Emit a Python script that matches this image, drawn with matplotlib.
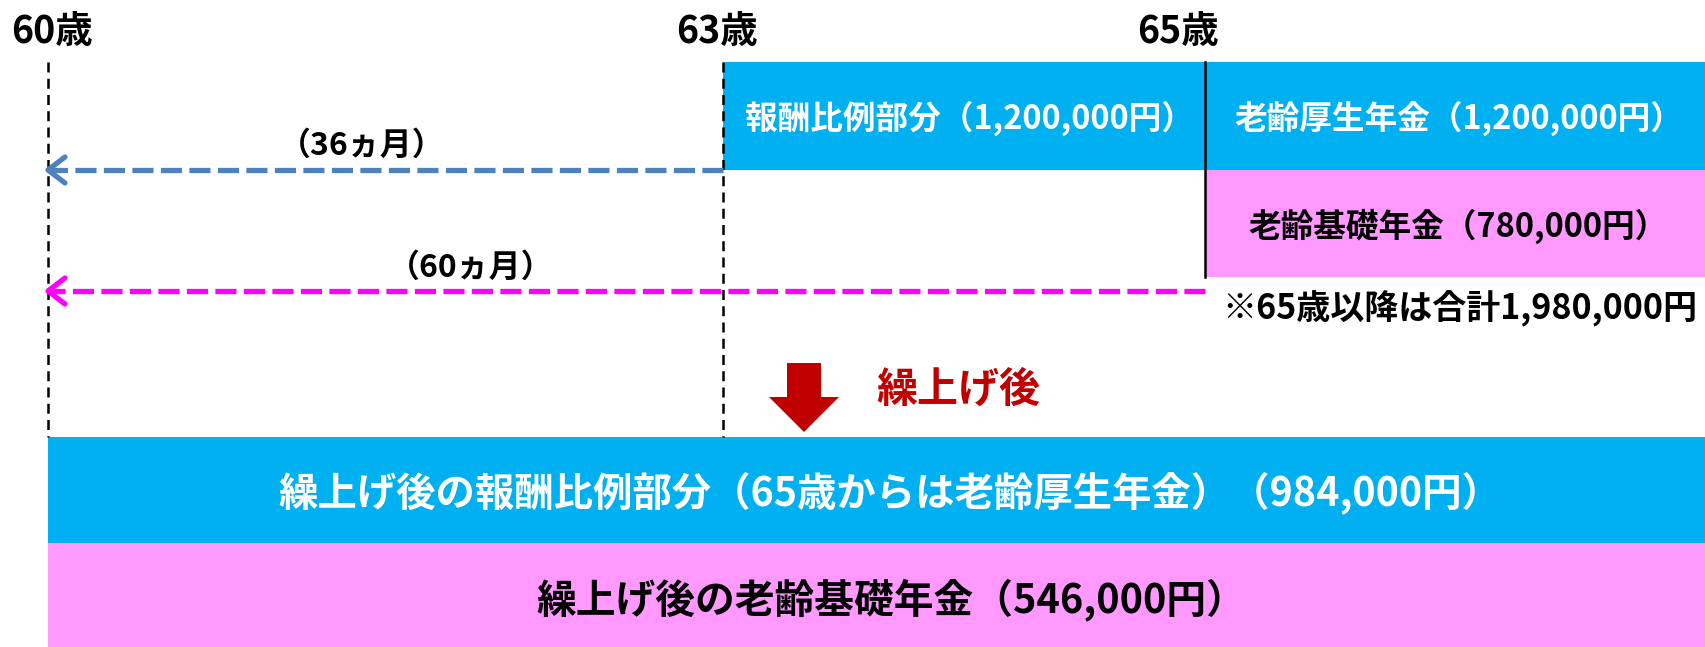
import matplotlib.pyplot as plt
from matplotlib.patches import Rectangle, Polygon

plt.rcParams['font.family'] = ['Noto Sans CJK JP', 'DejaVu Sans']

# ============================================================
# DATA
# ============================================================

ages = [60, 63, 65]
months_early = [36, 60]

top_labels = ["報酬比例部分", "老齢厚生年金", "老齢基礎年金"]
top_amounts = [1200000, 1200000, 780000]
total_after_65 = 1980000

early_labels = ["繰上げ後の報酬比例部分（65歳からは老齢厚生年金）", "繰上げ後の老齢基礎年金"]
early_amounts = [984000, 546000]

# ============================================================
# LAYOUT (pixel coordinates of the schematic)
# ============================================================

W, H = 1706, 647
age_x = {60: 48, 63: 723, 65: 1205}
label_x = {60: 52, 63: 717, 65: 1178}

BLUE = "#00B0F0"
PINK = "#FF99FF"
ARROW_BLUE = "#4F81BD"
MAGENTA = "#FF00FF"
RED = "#C00000"


def yen(v):
    return f"{v:,}円"


def dashed_arrow(ax, x_from, x_to, y, color):
    # dashed shaft + open chevron head at x_to
    ax.plot([x_from, x_to + 4], [y, y], color=color, lw=3.8,
            dashes=(4, 1.4), solid_capstyle="butt")
    hl, hw = 17, 13
    ax.plot([x_to + hl, x_to, x_to + hl], [y - hw, y, y + hw], color=color,
            lw=3.8, solid_capstyle="round", solid_joinstyle="round")


fig = plt.figure(figsize=(W / 100, H / 100), dpi=100)
ax = fig.add_axes([0, 0, 1, 1])
ax.set_xlim(0, W)
ax.set_ylim(H, 0)
ax.axis("off")

# age headers
for a in ages:
    ax.text(label_x[a], 31, f"{a}歳", ha="center", va="center",
            fontsize=27, fontweight="bold", color="black")

# before: boxes
ax.add_patch(Rectangle((age_x[63], 62), W - age_x[63], 108, color=BLUE, lw=0))
ax.add_patch(Rectangle((age_x[65], 170), W - age_x[65], 107, color=PINK, lw=0))

# vertical guides
for a in [60, 63]:
    ax.plot([age_x[a], age_x[a]], [62, 437], color="black", lw=1.8,
            dashes=(4, 2.5))
ax.plot([age_x[65], age_x[65]], [62, 277], color="black", lw=1.8)

ax.text((age_x[63] + age_x[65]) / 2 + 5, 118,
        f"{top_labels[0]}（{yen(top_amounts[0])}）",
        ha="center", va="center", fontsize=23.5, fontweight="bold", color="white")
ax.text((age_x[65] + W) / 2 + 3, 118,
        f"{top_labels[1]}（{yen(top_amounts[1])}）",
        ha="center", va="center", fontsize=23.5, fontweight="bold", color="white")
ax.text((age_x[65] + W) / 2 + 3, 226,
        f"{top_labels[2]}（{yen(top_amounts[2])}）",
        ha="center", va="center", fontsize=23.5, fontweight="bold", color="black")
ax.text(age_x[65] + 17, 309, f"※65歳以降は合計{total_after_65:,}円",
        ha="left", va="center", fontsize=24.5, fontweight="bold", color="black")

# early-claim arrows
dashed_arrow(ax, age_x[63], age_x[60], 170, ARROW_BLUE)
dashed_arrow(ax, age_x[65], age_x[60], 291, MAGENTA)
ax.text(362, 146, f"（{months_early[0]}ヵ月）", ha="center", va="center",
        fontsize=23, fontweight="bold", color="black")
ax.text(471, 268, f"（{months_early[1]}ヵ月）", ha="center", va="center",
        fontsize=23, fontweight="bold", color="black")

# red down arrow + caption
cx = 804
ax.add_patch(Polygon([(cx - 17, 363), (cx + 17, 363), (cx + 17, 397),
                      (cx + 35, 397), (cx, 432), (cx - 35, 397),
                      (cx - 17, 397)], closed=True, color=RED, lw=0))
ax.text(958, 390, "繰上げ後", ha="center", va="center",
        fontsize=29.5, fontweight="bold", color=RED)

# after: boxes
ax.add_patch(Rectangle((age_x[60], 437), W - age_x[60], 106, color=BLUE, lw=0))
ax.add_patch(Rectangle((age_x[60], 543), W - age_x[60], 104, color=PINK, lw=0))
ax.text(890, 494, f"{early_labels[0]}（{yen(early_amounts[0])}）",
        ha="center", va="center", fontsize=28.4, fontweight="bold", color="white")
ax.text(891, 600, f"{early_labels[1]}（{yen(early_amounts[1])}）",
        ha="center", va="center", fontsize=28.6, fontweight="bold", color="black")

plt.savefig("out.png", dpi=100)
